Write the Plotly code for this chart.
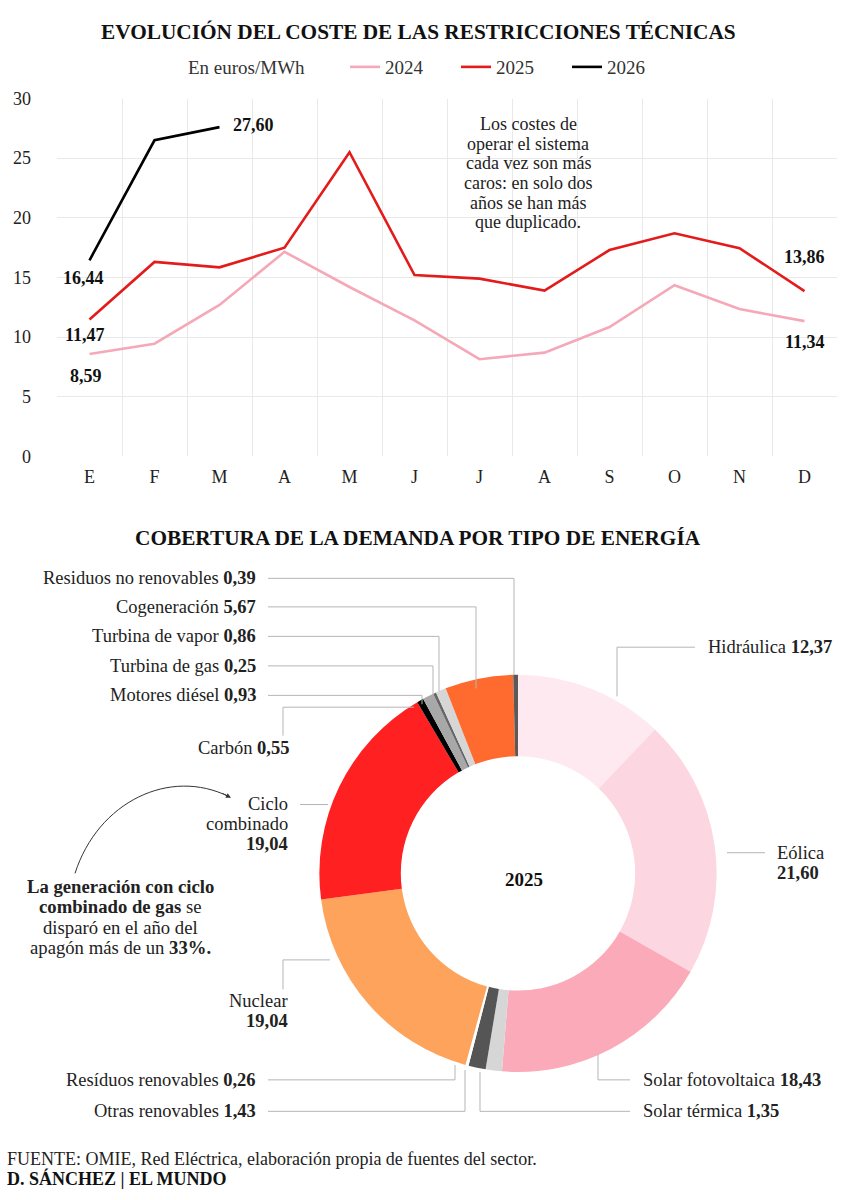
import plotly.graph_objects as go

W, H = 861, 1200

# --- data: coste de las restricciones técnicas (euros/MWh) ---
months = ["E", "F", "M", "A", "M", "J", "J", "A", "S", "O", "N", "D"]
cost_2024 = [8.59, 9.45, 12.7, 17.15, 14.2, 11.4, 8.15, 8.7, 10.85, 14.35, 12.35, 11.34]
cost_2025 = [11.47, 16.3, 15.85, 17.5, 25.5, 15.2, 14.9, 13.9, 17.3, 18.7, 17.45, 13.86]
cost_2026 = [16.44, 26.5, 27.60]

# --- data: cobertura de la demanda 2025 (%) ---
sources = ["Hidráulica", "Eólica", "Solar fotovoltaica", "Solar térmica",
           "Otras renovables", "Resíduos renovables", "Nuclear", "Ciclo combinado",
           "Carbón", "Motores diésel", "Turbina de gas", "Turbina de vapor",
           "Cogeneración", "Residuos no renovables"]
shares = [12.37, 21.60, 18.43, 1.35, 1.43, 0.26, 19.04, 19.04,
          0.55, 0.93, 0.25, 0.86, 5.67, 0.39]
source_colors = ["#fde9ef", "#fcd6e0", "#fbaab9", "#d6d6d6", "#555555", "#ffffff",
                 "#fda35b", "#ff2121", "#000000", "#a8a8a8", "#666666", "#d6d6d6",
                 "#ff6a2e", "#5a5a5a"]

FONT = "Liberation Serif"
GRID = "#e9e9e9"
LEAD = "#b5b5b5"


def px(x):
    return x / W


def py(y):
    return 1 - y / H


def fmt(v):
    return f"{v:.2f}".replace(".", ",")


def note(fig, x, y, text, size, anchor="center", color="#222"):
    fig.add_annotation(x=px(x), y=py(y), xref="paper", yref="paper", text=text,
                       showarrow=False, xanchor=anchor, yanchor="middle", align=anchor,
                       font=dict(family=FONT, size=size, color=color))


fig = go.Figure()

# line chart
for name, vals, color in [("2024", cost_2024, "#f5a9b8"),
                          ("2025", cost_2025, "#e31b1b"),
                          ("2026", cost_2026, "#000000")]:
    fig.add_trace(go.Scatter(x=list(range(len(vals))), y=vals, mode="lines", name=name,
                             line=dict(color=color, width=2.6), hoverinfo="skip"))

fig.update_xaxes(domain=[px(57), px(837)], range=[-0.5, 11.5],
                 tickvals=list(range(12)), ticktext=months, showgrid=False, zeroline=False,
                 ticks="", ticklabelstandoff=8,
                 tickfont=dict(family=FONT, size=18, color="#222"),
                 minor=dict(tickvals=[i - 0.5 for i in range(13)], showgrid=True,
                            gridcolor=GRID, gridwidth=1, ticks=""))
fig.update_yaxes(domain=[py(454), py(90)], range=[0, 30], dtick=5, gridcolor=GRID,
                 zeroline=False, ticks="", ticklabelstandoff=25,
                 tickfont=dict(family=FONT, size=18, color="#222"))

# value labels on the line ends
end_labels = [(0, cost_2026[0], -6, -18), (2, cost_2026[2], 34, 2),
              (0, cost_2025[0], -5, -15), (0, cost_2024[0], -4, -22),
              (11, cost_2025[11], 0, 34), (11, cost_2024[11], 0, -21)]
for xi, v, dx, dy in end_labels:
    fig.add_annotation(x=xi, y=v, xref="x", yref="y", text=f"<b>{fmt(v)}</b>",
                       showarrow=False, xshift=dx, yshift=dy,
                       font=dict(family=FONT, size=18, color="#111"))

note_lines = ["Los costes de", "operar el sistema", "cada vez son más",
              "caros: en solo dos", "años se han más", "que duplicado."]
for i, t in enumerate(note_lines):
    note(fig, 528, 116 + i * 20, t, 18)

# titles and units
note(fig, 418, 22, "<b>EVOLUCIÓN DEL COSTE DE LAS RESTRICCIONES TÉCNICAS</b>", 21.3,
     color="#111")
note(fig, 186, 58, "En euros/MWh", 19, anchor="left", color="#333")
note(fig, 418, 537, "<b>COBERTURA DE LA DEMANDA POR TIPO DE ENERGÍA</b>", 21.3,
     color="#111")

# donut
cx, cy, r = 518, 878, 202
fig.add_trace(go.Pie(values=shares, labels=sources, marker=dict(colors=source_colors),
                     hole=0.59, sort=False, direction="clockwise", rotation=0,
                     textinfo="none", hoverinfo="label+value", showlegend=False,
                     domain=dict(x=[px(cx - r), px(cx + r)], y=[py(cy + r), py(cy - r)])))
note(fig, 524, 884, "<b>2025</b>", 19, color="#111")

# label layout: (index, text x, first line y, xanchor, multiline, leader polyline)
label_specs = [
    (13, 258, 578, "right", False, [(268, 578), (514, 578), (514, 676)]),
    (12, 258, 607, "right", False, [(268, 607), (476, 607), (476, 690)]),
    (11, 258, 637, "right", False, [(268, 637), (439, 637), (439, 693)]),
    (10, 258, 667, "right", False, [(268, 667), (433, 667), (433, 697)]),
    (9, 258, 697, "right", False, [(268, 697), (422, 697), (422, 706)]),
    (8, 291, 751, "right", False, [(283, 738), (283, 709), (414, 709)]),
    (7, 290, 807, "right", True, [(300, 808), (328, 808)]),
    (6, 290, 1008, "right", True, [(283, 996), (283, 966), (330, 966)]),
    (5, 258, 1088, "right", False, [(268, 1088), (455, 1088), (455, 1073)]),
    (4, 258, 1120, "right", False, [(268, 1120), (465, 1120), (465, 1078)]),
    (3, 641, 1120, "left", False, [(630, 1120), (480, 1120), (480, 1080)]),
    (2, 641, 1088, "left", False, [(630, 1088), (598, 1088), (598, 1062)]),
    (0, 706, 648, "left", False, [(695, 648), (617, 648), (617, 698)]),
    (1, 775, 857, "left", True, [(765, 857), (727, 857)]),
]
for idx, tx, ty, anchor, multi, pts in label_specs:
    name, val = sources[idx], fmt(shares[idx])
    if multi:
        lines = name.split(" ") + [f"<b>{val}</b>"]
    else:
        lines = [f"{name} <b>{val}</b>"]
    for i, t in enumerate(lines):
        note(fig, tx, ty + i * 20.6, t, 18.5, anchor=anchor)
    path = "M " + " L ".join(f"{px(a):.5f},{py(b):.5f}" for a, b in pts)
    fig.add_shape(type="path", path=path, xref="paper", yref="paper",
                  line=dict(color=LEAD, width=1))

# callout about combined cycle
callout = ["<b>La generación con ciclo</b>", "<b>combinado de gas</b> se",
           "disparó en el año del", "apagón más de un <b>33%.</b>"]
for i, t in enumerate(callout):
    note(fig, 120, 891 + i * 20.8, t, 18.7)
arc = [(75, 878), (98, 805), (170, 770), (229, 800)]
fig.add_shape(type="path", xref="paper", yref="paper",
              path=(f"M {px(arc[0][0]):.5f},{py(arc[0][1]):.5f} C "
                    + " ".join(f"{px(a):.5f},{py(b):.5f}" for a, b in arc[1:])),
              line=dict(color="#333", width=1))
fig.add_annotation(x=px(231), y=py(801), xref="paper", yref="paper", text="",
                   showarrow=True, arrowhead=2, arrowsize=1, arrowwidth=1,
                   arrowcolor="#333", ax=-10, ay=-5)

# footer
note(fig, 5, 1168, "FUENTE: OMIE, Red Eléctrica, elaboración propia de fuentes del sector.",
     18, anchor="left")
note(fig, 5, 1188, "<b>D. SÁNCHEZ | EL MUNDO</b>", 18, anchor="left", color="#111")

fig.update_layout(
    width=W, height=H,
    margin=dict(l=0, r=0, t=0, b=0),
    paper_bgcolor="white", plot_bgcolor="white",
    showlegend=True,
    legend=dict(orientation="h", x=px(345), y=py(58), xanchor="left", yanchor="middle",
                entrywidth=66, entrywidthmode="pixels", bgcolor="rgba(0,0,0,0)",
                font=dict(family=FONT, size=19, color="#333")),
)

fig.write_html("out.html", config={"displayModeBar": False},
               post_script="document.body.style.margin='0';")
